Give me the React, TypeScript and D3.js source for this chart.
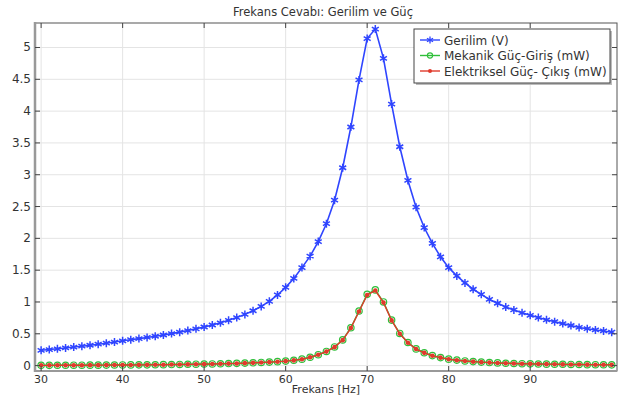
import React from 'react';
import * as d3 from 'd3';

const W = 623;
const H = 396;

const frekans = [
  30, 31, 32, 33, 34, 35, 36, 37, 38, 39, 40, 41, 42, 43, 44, 45, 46, 47, 48, 49,
  50, 51, 52, 53, 54, 55, 56, 57, 58, 59, 60, 61, 62, 63, 64, 65, 66, 67, 68, 69,
  70, 71, 72, 73, 74, 75, 76, 77, 78, 79, 80, 81, 82, 83, 84, 85, 86, 87, 88, 89,
  90, 91, 92, 93, 94, 95, 96, 97, 98, 99, 100,
];

const gerilim = [
  0.240, 0.252, 0.264, 0.277, 0.291, 0.305, 0.320, 0.336, 0.352, 0.370,
  0.390, 0.407, 0.424, 0.442, 0.461, 0.481, 0.503, 0.526, 0.551, 0.578,
  0.607, 0.638, 0.672, 0.712, 0.755, 0.805, 0.862, 0.930, 1.01, 1.11,
  1.23, 1.37, 1.54, 1.72, 1.95, 2.23, 2.60, 3.11, 3.75, 4.49,
  5.14, 5.29, 4.83, 4.11, 3.44, 2.91, 2.49, 2.17, 1.92, 1.71,
  1.54, 1.41, 1.30, 1.20, 1.12, 1.04, 0.98, 0.92, 0.875, 0.83,
  0.79, 0.755, 0.72, 0.69, 0.66, 0.63, 0.60, 0.58, 0.56, 0.545, 0.525,
];

const mekanik = [
  0.004, 0.004, 0.005, 0.005, 0.006, 0.006, 0.007, 0.007, 0.008, 0.009,
  0.010, 0.011, 0.012, 0.012, 0.013, 0.015, 0.016, 0.018, 0.020, 0.022,
  0.024, 0.026, 0.029, 0.032, 0.035, 0.039, 0.044, 0.049, 0.055, 0.062,
  0.071, 0.083, 0.101, 0.131, 0.171, 0.222, 0.293, 0.404, 0.595, 0.857,
  1.12, 1.19, 1.00, 0.715, 0.505, 0.363, 0.262, 0.202, 0.157, 0.126,
  0.101, 0.086, 0.073, 0.063, 0.055, 0.048, 0.042, 0.037, 0.033, 0.030,
  0.027, 0.025, 0.023, 0.021, 0.020, 0.018, 0.017, 0.015, 0.014, 0.013, 0.012,
];

const elektriksel = [
  0.004, 0.004, 0.005, 0.005, 0.006, 0.006, 0.007, 0.007, 0.008, 0.009,
  0.010, 0.010, 0.011, 0.012, 0.013, 0.014, 0.016, 0.017, 0.019, 0.021,
  0.023, 0.025, 0.028, 0.031, 0.034, 0.038, 0.043, 0.048, 0.054, 0.061,
  0.070, 0.082, 0.100, 0.130, 0.170, 0.220, 0.290, 0.400, 0.590, 0.850,
  1.11, 1.18, 0.99, 0.71, 0.50, 0.36, 0.26, 0.20, 0.155, 0.125,
  0.100, 0.085, 0.072, 0.062, 0.054, 0.047, 0.041, 0.037, 0.033, 0.030,
  0.027, 0.025, 0.023, 0.021, 0.019, 0.018, 0.016, 0.015, 0.014, 0.013, 0.012,
];

const xTicks = [30, 40, 50, 60, 70, 80, 90];
const yTicks = [0, 0.5, 1, 1.5, 2, 2.5, 3, 3.5, 4, 4.5, 5];
const legendLabels = ['Gerilim (V)', 'Mekanik Güç-Giriş (mW)', 'Elektriksel Güç- Çıkış (mW)'];

const BLUE = '#2f45ff';
const GREEN = '#2fbf3a';
const RED = '#e03a2c';
const FONT = 'DejaVu Sans, sans-serif';

const left = 35;
const right = 617;
const top = 23;
const bottom = 371;

const x = d3.scaleLinear().domain([29.25, 100.65]).range([left, right]);
const y = d3.scaleLinear().domain([-0.085, 5.385]).range([bottom, top]);

const star = (r: number) =>
  `M0,${-r}L0,${r}M${-r * 0.87},${-r * 0.5}L${r * 0.87},${r * 0.5}M${-r * 0.87},${r * 0.5}L${r * 0.87},${-r * 0.5}`;

const App: React.FC = () => {
  const line = (vals: number[]) =>
    d3.line<number>().x((_, i) => x(frekans[i])).y((d) => y(d))(vals) || '';

  return (
    <svg width={W} height={H} style={{ position: 'absolute', left: 0, top: 0 }} fontFamily={FONT}>
      <rect width={W} height={H} fill="#fff" />
      <text x={323} y={16} textAnchor="middle" fontSize={11.5} fill="#333">
        Frekans Cevabı: Gerilim ve Güç
      </text>

      {/* grid */}
      {xTicks.map((t) => (
        <line key={'gx' + t} x1={x(t)} x2={x(t)} y1={top} y2={bottom} stroke="#e4e4e4" />
      ))}
      {yTicks.map((t) => (
        <line key={'gy' + t} x1={left} x2={right} y1={y(t)} y2={y(t)} stroke="#e4e4e4" />
      ))}

      {/* series */}
      <g clipPath="url(#plotclip)">
        <path d={line(gerilim)} fill="none" stroke={BLUE} strokeWidth={1.6} />
        {gerilim.map((v, i) => (
          <path key={'g' + i} transform={`translate(${x(frekans[i])},${y(v)})`} d={star(4)} stroke={BLUE} strokeWidth={1.5} fill="none" />
        ))}
        <path d={line(mekanik)} fill="none" stroke={GREEN} strokeWidth={1.4} />
        {mekanik.map((v, i) => (
          <circle key={'m' + i} cx={x(frekans[i])} cy={y(v)} r={3.2} fill="none" stroke={GREEN} strokeWidth={1.2} />
        ))}
        <path d={line(elektriksel)} fill="none" stroke={RED} strokeWidth={1.4} />
        {elektriksel.map((v, i) => (
          <circle key={'e' + i} cx={x(frekans[i])} cy={y(v)} r={2.3} fill={RED} />
        ))}
      </g>
      <defs>
        <clipPath id="plotclip">
          <rect x={left - 5} y={top} width={right - left + 10} height={bottom - top} />
        </clipPath>
      </defs>

      {/* frame */}
      <rect x={left} y={top} width={right - left} height={bottom - top} fill="none" stroke="#555" strokeWidth={1} />
      <line x1={left} x2={left} y1={top - 1} y2={bottom + 1} stroke="#999" strokeWidth={2.5} />
      <line x1={left} x2={right} y1={bottom} y2={bottom} stroke="#999" strokeWidth={2} />

      {/* ticks */}
      {yTicks.map((t) => (
        <g key={'ty' + t}>
          <line x1={left} x2={left + 5} y1={y(t)} y2={y(t)} stroke="#444" />
          <line x1={right} x2={right - 5} y1={y(t)} y2={y(t)} stroke="#444" />
          <text x={left - 4} y={y(t) + 4} textAnchor="end" fontSize={12} fill="#333">
            {t}
          </text>
        </g>
      ))}
      {xTicks.map((t) => (
        <g key={'tx' + t}>
          <line x1={x(t)} x2={x(t)} y1={bottom} y2={bottom - 5} stroke="#444" />
          <line x1={x(t)} x2={x(t)} y1={top} y2={top + 5} stroke="#444" />
          <text x={x(t)} y={bottom + 12} textAnchor="middle" fontSize={11} fill="#333">
            {t}
          </text>
        </g>
      ))}
      <text x={326} y={393} textAnchor="middle" fontSize={11} fill="#333">
        Frekans [Hz]
      </text>

      {/* legend */}
      <rect x={416} y={31} width={196} height={54} fill="#bbb" />
      <rect x={414} y={29} width={196} height={54} fill="#fff" stroke="#444" strokeWidth={1} />
      {legendLabels.map((lab, i) => {
        const ly = 40 + i * 15.5;
        const col = [BLUE, GREEN, RED][i];
        return (
          <g key={lab}>
            <line x1={420} x2={440} y1={ly} y2={ly} stroke={col} strokeWidth={1.4} />
            {i === 0 && <path transform={`translate(430,${ly})`} d={star(3.5)} stroke={BLUE} strokeWidth={1.3} />}
            {i === 1 && <circle cx={430} cy={ly} r={2.6} fill="none" stroke={GREEN} strokeWidth={1.1} />}
            {i === 2 && <circle cx={430} cy={ly} r={2} fill={RED} />}
            <text x={444} y={ly + 4.5} fontSize={12} fill="#333">
              {lab}
            </text>
          </g>
        );
      })}
    </svg>
  );
};

export default App;
